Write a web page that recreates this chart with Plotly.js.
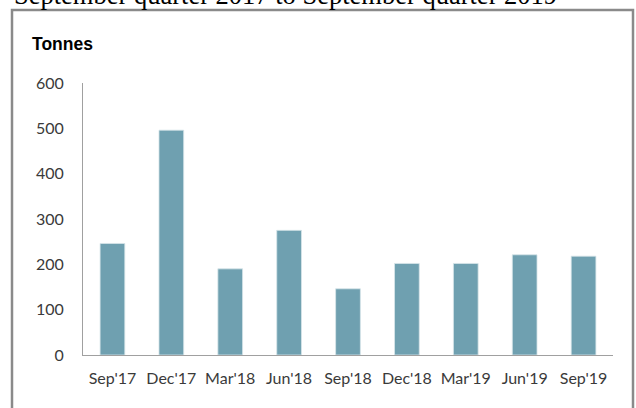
<!DOCTYPE html>
<html>
<head>
<meta charset="utf-8">
<script src="https://cdn.plot.ly/plotly-3.0.1.min.js"></script>
<style>html,body{margin:0;padding:0;background:#fff;}#chart{width:636px;height:408px;}</style>
</head>
<body>
<div id="chart"></div>
<script>
const quarters = ["Sep'17", "Dec'17", "Mar'18", "Jun'18", "Sep'18", "Dec'18", "Mar'19", "Jun'19", "Sep'19"];
const tonnes = [246, 496, 190, 275, 146, 202, 202, 221, 218];
const yTicks = [0, 100, 200, 300, 400, 500, 600];
const chartTitle = "September quarter 2017 to September quarter 2019";
const unitLabel = "Tonnes";

const W = 636, H = 408;
const m = {l: 83, r: 23, t: 83, b: 53};
const pw = W - m.l - m.r, ph = H - m.t - m.b;
const px = x => (x - m.l) / pw;
const py = y => (H - m.b - y) / ph;

const tickFont = {family: "Lato, 'Open Sans', sans-serif", size: 16, color: '#3a3a3a'};

Plotly.newPlot('chart', [{
  type: 'bar',
  x: quarters,
  y: tonnes,
  marker: {color: '#6fa0b0', line: {color: '#d8e6ea', width: 0.8}},
  hoverinfo: 'x+y'
}], {
  width: W, height: H,
  margin: m,
  paper_bgcolor: '#fff', plot_bgcolor: '#fff',
  bargap: 0.58,
  showlegend: false,
  xaxis: {
    showline: true, linecolor: '#a0a0a0', linewidth: 1,
    showgrid: false, zeroline: false, ticks: '',
    tickfont: tickFont, ticklabelstandoff: 9
  },
  yaxis: {
    range: [0, 600], tickvals: yTicks, ticktext: yTicks.map(String),
    showline: true, linecolor: '#a0a0a0', linewidth: 1,
    showgrid: false, zeroline: false, ticks: '',
    tickfont: tickFont, ticklabelstandoff: 15
  },
  annotations: [
    {text: chartTitle, xref: 'paper', yref: 'paper', x: px(12), y: py(-5),
     xanchor: 'left', yanchor: 'middle', showarrow: false,
     font: {family: "'Liberation Serif', 'Times New Roman', serif", size: 26.5, color: '#000'}},
    {text: '<b>' + unitLabel + '</b>', xref: 'paper', yref: 'paper', x: px(30), y: py(44),
     xanchor: 'left', yanchor: 'middle', showarrow: false,
     font: {family: "'Liberation Sans', Arial, sans-serif", size: 17.5, color: '#000'}}
  ],
  shapes: [
    {type: 'rect', xref: 'paper', yref: 'paper', x0: px(12), x1: px(633), y0: py(415), y1: py(10),
     line: {color: '#8a8a8a', width: 2.5}, fillcolor: 'rgba(0,0,0,0)', layer: 'below'}
  ]
}, {displayModeBar: false, staticPlot: true});
</script>
</body>
</html>
